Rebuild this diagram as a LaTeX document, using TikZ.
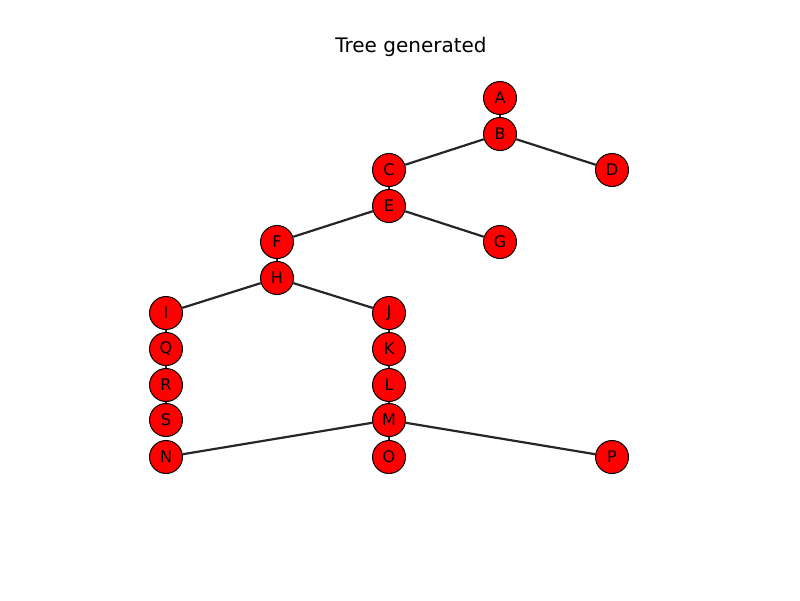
\documentclass[tikz,border=0pt]{standalone}
\usepackage{fontspec}
\setmainfont{DejaVu Sans}
\tikzset{
 vertex/.style={shape=circle,draw=black,fill=red,line width=1pt,
   minimum size=33pt,inner sep=0pt,font=\fontsize{16}{16}\selectfont},
 treeedge/.style={draw=black!85,line width=2.2pt}
}

\begin{document}
\begin{tikzpicture}[x=1pt,y=-1pt]
\useasboundingbox (0,0) rectangle (800,600);
\path (411,47) node[name=title,font=\fontsize{20}{20}\selectfont] {Tree generated};

\path (500,98) node[vertex,name=A] {A};
\path (500,134) node[vertex,name=B] {B};
\path (389,170) node[vertex,name=C] {C};
\path (612,170) node[vertex,name=D] {D};
\path (389,206) node[vertex,name=E] {E};
\path (277,242) node[vertex,name=F] {F};
\path (500,242) node[vertex,name=G] {G};
\path (277,278) node[vertex,name=H] {H};
\path (166,313) node[vertex,name=I] {I};
\path (389,313) node[vertex,name=J] {J};
\path (166,349) node[vertex,name=Q] {Q};
\path (389,349) node[vertex,name=K] {K};
\path (166,385) node[vertex,name=R] {R};
\path (389,385) node[vertex,name=L] {L};
\path (166,420) node[vertex,name=S] {S};
\path (389,420) node[vertex,name=M] {M};
\path (166,457) node[vertex,name=N] {N};
\path (389,457) node[vertex,name=O] {O};
\path (612,457) node[vertex,name=P] {P};

\path[treeedge] (A) edge (B);
\path[treeedge] (B) edge (C);
\path[treeedge] (B) edge (D);
\path[treeedge] (C) edge (E);
\path[treeedge] (E) edge (F);
\path[treeedge] (E) edge (G);
\path[treeedge] (F) edge (H);
\path[treeedge] (H) edge (I);
\path[treeedge] (H) edge (J);
\path[treeedge] (I) edge (Q);
\path[treeedge] (Q) edge (R);
\path[treeedge] (R) edge (S);
\path[treeedge] (J) edge (K);
\path[treeedge] (K) edge (L);
\path[treeedge] (L) edge (M);
\path[treeedge] (M) edge (N);
\path[treeedge] (M) edge (O);
\path[treeedge] (M) edge (P);
\end{tikzpicture}
\end{document}
